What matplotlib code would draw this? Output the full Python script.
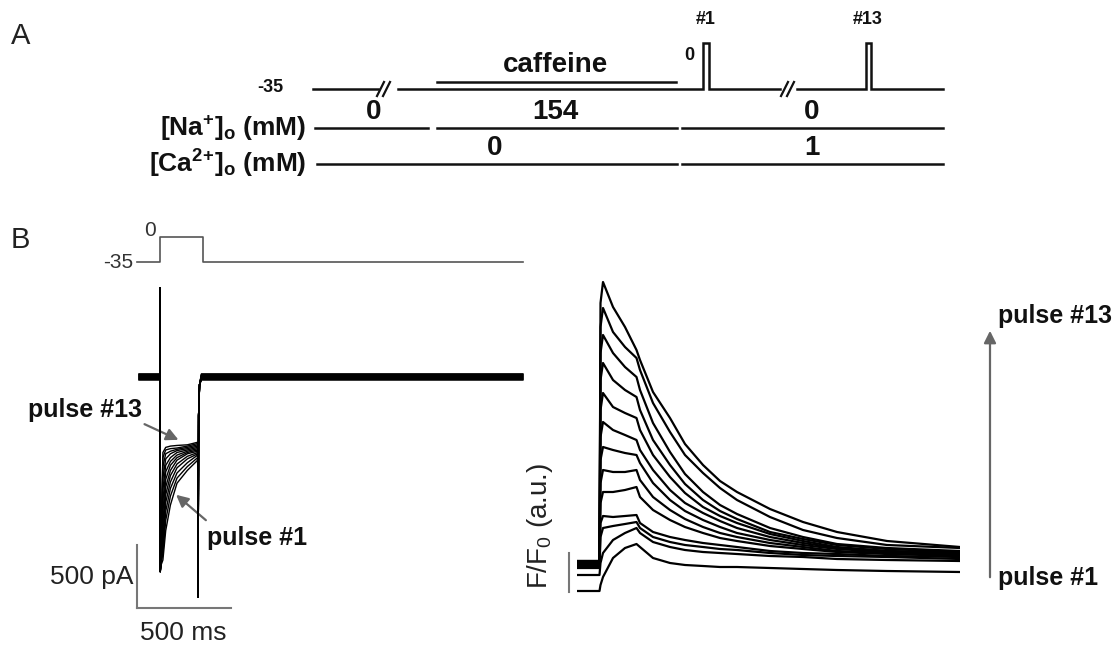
import matplotlib.pyplot as plt

plt.rcParams['font.family'] = ['Liberation Sans', 'DejaVu Sans']
plt.rcParams['mathtext.default'] = 'regular'

W, H = 1120, 651

# ------------------------------
# Panel A: protocol schematic (x = protocol time, a.u.)
# ------------------------------
vm_pieces = [
    ([313, 378], [-35, -35]),
    ([398, 703, 703, 709, 709, 780], [-35, -35, 0, 0, -35, -35]),
    ([797, 866, 866, 871, 871, 943], [-35, -35, 0, 0, -35, -35]),
]
caffeine_span = (437, 676)
na_spans = [(315, 428), (437, 677), (682, 943)]
na_values = ["0", "154", "0"]
na_label_x = [374, 555, 812]
ca_spans = [(317, 677), (682, 943)]
ca_values = ["0", "1"]
ca_label_x = [495, 812]
break_x = [377, 781]
pulse_names = ["#1", "#13"]
pulse_name_x = [706, 868]

# ------------------------------
# Panel B left: voltage step and Ca currents (ms, pA)
# ------------------------------
step_t = [-122, 0, 0, 229, 229, 1931]
step_v = [-35, -35, 0, 0, -35, -35]

fam_t = [5, 15, 30, 55, 90, 145, 200]
cur_family = [
    [-1470, -1430, -1200, -1000, -830, -730, -650],   # pulse #1
    [-1460, -1380, -1120, -930, -790, -700, -630],
    [-1450, -1330, -1050, -870, -750, -670, -610],
    [-1440, -1270, -980, -820, -710, -640, -600],
    [-1430, -1200, -920, -770, -680, -620, -590],
    [-1420, -1130, -860, -730, -650, -600, -580],
    [-1400, -1050, -800, -690, -630, -590, -570],
    [-1380, -970, -740, -660, -610, -580, -560],
    [-1360, -880, -690, -630, -590, -570, -550],
    [-1340, -790, -640, -600, -575, -560, -540],
    [-1320, -700, -600, -580, -565, -550, -530],
    [-1300, -630, -570, -560, -555, -540, -520],
    [-1280, -590, -550, -540, -535, -530, -510],      # pulse #13
]
cur_hold = [-24, -20, -16, -12, -8, -4, 0, 4, 8, 12, 16, 20, 24]
on_spike = [695, -1520]
off_spike = -1718

# ------------------------------
# Panel B right: F/F0 traces (ms, a.u.)
# ------------------------------
fl_t = [-230, -5, 5, 30, 130, 250, 365, 400, 530, 700, 850, 1030, 1200, 1370,
        1700, 2030, 2370, 2870, 3600]
fl_traces = [
    [0.74, 0.74, 0.80, 0.88, 1.07, 1.17, 1.21, 1.18, 1.07, 1.02, 1.00, 0.99, 0.98, 0.98, 0.97, 0.96, 0.95, 0.94, 0.93],
    [0.90, 0.90, 1.02, 1.12, 1.25, 1.32, 1.37, 1.32, 1.23, 1.18, 1.15, 1.13, 1.12, 1.11, 1.09, 1.08, 1.06, 1.05, 1.04],
    [0.97, 0.97, 1.28, 1.37, 1.39, 1.41, 1.43, 1.37, 1.28, 1.23, 1.20, 1.18, 1.16, 1.15, 1.12, 1.10, 1.09, 1.08, 1.06],
    [0.98, 0.98, 1.42, 1.49, 1.48, 1.49, 1.50, 1.42, 1.33, 1.28, 1.25, 1.22, 1.20, 1.18, 1.14, 1.12, 1.11, 1.09, 1.08],
    [0.99, 0.99, 1.62, 1.73, 1.73, 1.75, 1.78, 1.68, 1.55, 1.45, 1.38, 1.32, 1.27, 1.24, 1.19, 1.16, 1.13, 1.11, 1.09],
    [1.00, 1.00, 1.82, 1.95, 1.93, 1.93, 1.95, 1.85, 1.68, 1.55, 1.46, 1.38, 1.32, 1.28, 1.22, 1.18, 1.14, 1.12, 1.10],
    [1.00, 1.00, 2.05, 2.18, 2.15, 2.12, 2.10, 2.02, 1.82, 1.65, 1.54, 1.45, 1.38, 1.32, 1.25, 1.20, 1.16, 1.13, 1.11],
    [1.01, 1.01, 2.28, 2.43, 2.35, 2.30, 2.25, 2.15, 1.95, 1.75, 1.62, 1.52, 1.44, 1.37, 1.28, 1.22, 1.17, 1.14, 1.12],
    [1.02, 1.02, 2.55, 2.72, 2.58, 2.52, 2.47, 2.35, 2.10, 1.88, 1.72, 1.58, 1.49, 1.42, 1.31, 1.24, 1.18, 1.14, 1.12],
    [1.02, 1.02, 2.85, 3.02, 2.85, 2.75, 2.68, 2.55, 2.25, 2.00, 1.81, 1.65, 1.54, 1.46, 1.33, 1.26, 1.20, 1.16, 1.13],
    [1.03, 1.03, 3.12, 3.30, 3.12, 2.98, 2.88, 2.75, 2.42, 2.13, 1.91, 1.73, 1.60, 1.51, 1.37, 1.28, 1.21, 1.17, 1.14],
    [1.04, 1.04, 3.38, 3.57, 3.33, 3.18, 3.07, 2.95, 2.62, 2.33, 2.10, 1.92, 1.77, 1.65, 1.48, 1.35, 1.27, 1.20, 1.17],
    [1.04, 1.04, 3.62, 3.83, 3.58, 3.38, 3.15, 3.05, 2.73, 2.47, 2.21, 2.00, 1.84, 1.73, 1.56, 1.43, 1.33, 1.24, 1.18],
]


def px_box(x0, y0, x1, y1):
    return [x0 / W, 1 - y1 / H, (x1 - x0) / W, (y1 - y0) / H]


fig = plt.figure(figsize=(W / 100, H / 100), dpi=100)

# overlay in pixel units for labels, scale bars and arrows
ov = fig.add_axes([0, 0, 1, 1])
ov.set_xlim(0, W)
ov.set_ylim(H, 0)
ov.axis('off')

# ---------------- panel A ----------------
axv = fig.add_axes(px_box(300, 30, 960, 100))
axv.set_xlim(300, 960)
axv.set_ylim(-43.4, 9.9)
axv.axis('off')
for xs, ys in vm_pieces:
    axv.plot(xs, ys, color='#111111', lw=1.8, solid_joinstyle='miter')

for xb in break_x:
    ov.plot([xb, xb + 7], [96, 82], color='#111111', lw=1.6)
    ov.plot([xb + 6, xb + 13], [96, 82], color='#111111', lw=1.6)

ov.plot(caffeine_span, [82, 82], color='#111111', lw=1.8)
for (a, b) in na_spans:
    ov.plot([a, b], [128, 128], color='#111111', lw=1.8)
for (a, b) in ca_spans:
    ov.plot([a, b], [164, 164], color='#111111', lw=1.8)

bold_a = dict(fontweight='bold', fontsize=20, ha='center', va='center', color='#111111')
ov.text(555, 65, "caffeine", **bold_a)
for x, s in zip(na_label_x, na_values):
    ov.text(x, 112, s, **bold_a)
for x, s in zip(ca_label_x, ca_values):
    ov.text(x, 148, s, **bold_a)
for x, s in zip(pulse_name_x, pulse_names):
    ov.text(x, 19, s, fontweight='bold', fontsize=13, ha='center', va='center', color='#111111')
ov.text(689, 55, "0", fontweight='bold', fontsize=13, ha='center', va='center', color='#111111')
ov.text(283, 88, "-35", fontweight='bold', fontsize=13, ha='right', va='center', color='#111111')
ov.text(306, 128, "[Na$^{+}$]$_{o}$ (mM)", fontweight='bold', fontsize=19,
        ha='right', va='center', color='#111111')
ov.text(306, 164, "[Ca$^{2}$$^{+}$]$_{o}$ (mM)", fontweight='bold', fontsize=19,
        ha='right', va='center', color='#111111')
ov.text(11, 36, "A", fontsize=21, ha='left', va='center', color='#222222')

# ---------------- panel B, currents ----------------
ov.text(11, 240, "B", fontsize=21, ha='left', va='center', color='#222222')

axs = fig.add_axes(px_box(130, 230, 530, 270))
axs.set_xlim(-160, 1968)
axs.set_ylim(-46.2, 9.8)
axs.axis('off')
axs.plot(step_t, step_v, color='#555555', lw=1.2)
ov.text(156, 231, "0", fontsize=15, ha='right', va='center', color='#333333')
ov.text(133, 263, "-35", fontsize=15, ha='right', va='center', color='#333333')

axc = fig.add_axes(px_box(130, 280, 530, 620))
axc.set_xlim(-160, 1968)
axc.set_ylim(-1898, 757)
axc.axis('off')
for fam, h in zip(cur_family, cur_hold):
    t = [-112, -1, 0, 1] + fam_t + [202, 205, 210, 220, 1930]
    y = [h, h, on_spike[0], on_spike[1]] + fam + [off_spike, -300, -60, h, h]
    axc.plot(t, y, color='black', lw=1.0)

ov.plot([137, 137], [545, 608], color='#777777', lw=1.5)
ov.plot([137, 231], [608, 608], color='#777777', lw=1.5)
ov.text(133, 577, "500 pA", fontsize=19, ha='right', va='center', color='#222222')
ov.text(183, 633, "500 ms", fontsize=19, ha='center', va='center', color='#222222')

arr = dict(arrowstyle='-|>', color='#666666', lw=1.6, mutation_scale=18)
ov.text(28, 410, "pulse #13", fontweight='bold', fontsize=18, ha='left', va='center', color='#111111')
ov.annotate("", xy=(181, 441), xytext=(142, 423), arrowprops=arr)
ov.text(207, 538, "pulse #1", fontweight='bold', fontsize=18, ha='left', va='center', color='#111111')
ov.annotate("", xy=(174, 493), xytext=(208, 522), arrowprops=arr)

# ---------------- panel B, fluorescence ----------------
axf = fig.add_axes(px_box(577, 270, 960, 600))
axf.set_xlim(-230, 3600)
axf.set_ylim(0.65, 3.95)
axf.axis('off')
for tr in fl_traces:
    axf.plot(fl_t, tr, color='black', lw=1.6)

ov.plot([569, 569], [553, 592], color='#777777', lw=1.5)
ov.text(540, 526, "F/F$_{0}$ (a.u.)", fontsize=20, rotation=90, ha='center', va='center', color='#222222')

ov.annotate("", xy=(990, 328), xytext=(990, 580), arrowprops=arr)
ov.text(998, 316, "pulse #13", fontweight='bold', fontsize=18, ha='left', va='center', color='#111111')
ov.text(998, 578, "pulse #1", fontweight='bold', fontsize=18, ha='left', va='center', color='#111111')

fig.savefig("out.png", dpi=100, facecolor='white')
